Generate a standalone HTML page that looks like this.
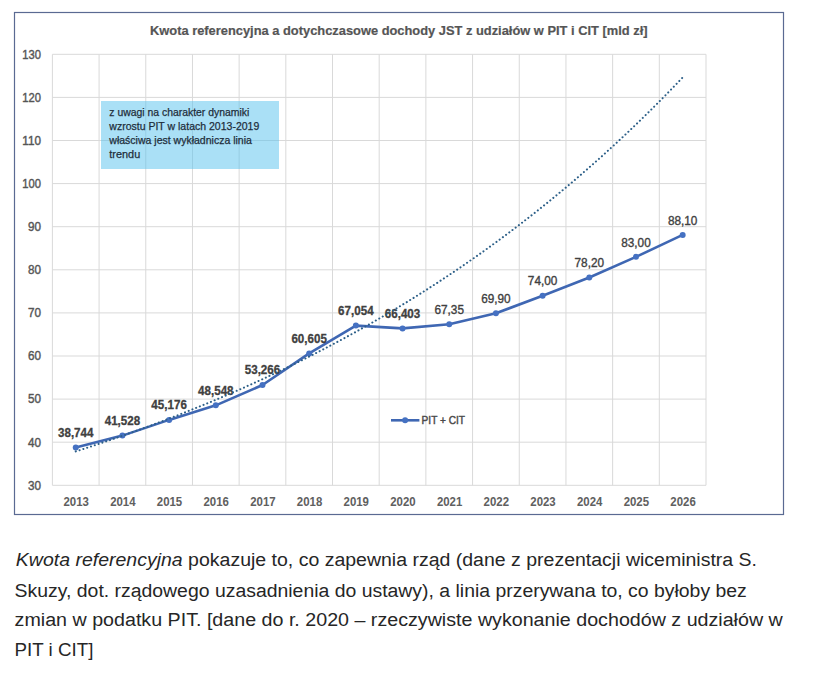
<!DOCTYPE html><html><head><meta charset="utf-8"><style>html,body{margin:0;padding:0;background:#fff;}body{width:817px;height:674px;overflow:hidden;position:relative;font-family:"Liberation Sans",sans-serif;}svg{position:absolute;left:0;top:0;}</style></head><body>
<svg width="817" height="674" viewBox="0 0 817 674" font-family="Liberation Sans, sans-serif">
<rect x="14.5" y="12.5" width="769" height="502" fill="#fff" stroke="#5a6a92" stroke-width="1.2"/>
<path d="M52.4 54.30H706.0 M52.4 97.40H706.0 M52.4 140.50H706.0 M52.4 183.60H706.0 M52.4 226.70H706.0 M52.4 269.80H706.0 M52.4 312.90H706.0 M52.4 356.00H706.0 M52.4 399.10H706.0 M52.4 442.20H706.0 M52.4 485.30H706.0 M52.40 54.3V485.3 M99.09 54.3V485.3 M145.77 54.3V485.3 M192.46 54.3V485.3 M239.14 54.3V485.3 M285.83 54.3V485.3 M332.51 54.3V485.3 M379.20 54.3V485.3 M425.89 54.3V485.3 M472.57 54.3V485.3 M519.26 54.3V485.3 M565.94 54.3V485.3 M612.63 54.3V485.3 M659.31 54.3V485.3 M706.00 54.3V485.3" stroke="#d9d9d9" stroke-width="1" fill="none"/>
<rect x="101" y="101" width="178" height="68" fill="#55c2ee" fill-opacity="0.5"/>
<text x="109.3" y="115.8" font-size="11.5" fill="#1e2d3a" stroke="#1e2d3a" stroke-width="0.25" textLength="140" lengthAdjust="spacingAndGlyphs">z uwagi na charakter dynamiki</text>
<text x="109.3" y="129.7" font-size="11.5" fill="#1e2d3a" stroke="#1e2d3a" stroke-width="0.25" textLength="150" lengthAdjust="spacingAndGlyphs">wzrostu PIT w latach 2013-2019</text>
<text x="109.3" y="143.7" font-size="11.5" fill="#1e2d3a" stroke="#1e2d3a" stroke-width="0.25" textLength="142.6" lengthAdjust="spacingAndGlyphs">właściwa jest wykładnicza linia</text>
<text x="109.3" y="157.5" font-size="11.5" fill="#1e2d3a" stroke="#1e2d3a" stroke-width="0.25" textLength="30.9" lengthAdjust="spacingAndGlyphs">trendu</text>
<text x="40.9" y="489.60" font-size="11.9" fill="#555555" stroke="#555555" stroke-width="0.4" text-anchor="end" textLength="13.0" lengthAdjust="spacingAndGlyphs">30</text>
<text x="40.9" y="446.50" font-size="11.9" fill="#555555" stroke="#555555" stroke-width="0.4" text-anchor="end" textLength="13.0" lengthAdjust="spacingAndGlyphs">40</text>
<text x="40.9" y="403.40" font-size="11.9" fill="#555555" stroke="#555555" stroke-width="0.4" text-anchor="end" textLength="13.0" lengthAdjust="spacingAndGlyphs">50</text>
<text x="40.9" y="360.30" font-size="11.9" fill="#555555" stroke="#555555" stroke-width="0.4" text-anchor="end" textLength="13.0" lengthAdjust="spacingAndGlyphs">60</text>
<text x="40.9" y="317.20" font-size="11.9" fill="#555555" stroke="#555555" stroke-width="0.4" text-anchor="end" textLength="13.0" lengthAdjust="spacingAndGlyphs">70</text>
<text x="40.9" y="274.10" font-size="11.9" fill="#555555" stroke="#555555" stroke-width="0.4" text-anchor="end" textLength="13.0" lengthAdjust="spacingAndGlyphs">80</text>
<text x="40.9" y="231.00" font-size="11.9" fill="#555555" stroke="#555555" stroke-width="0.4" text-anchor="end" textLength="13.0" lengthAdjust="spacingAndGlyphs">90</text>
<text x="40.9" y="187.90" font-size="11.9" fill="#555555" stroke="#555555" stroke-width="0.4" text-anchor="end" textLength="18.6" lengthAdjust="spacingAndGlyphs">100</text>
<text x="40.9" y="144.80" font-size="11.9" fill="#555555" stroke="#555555" stroke-width="0.4" text-anchor="end" textLength="18.6" lengthAdjust="spacingAndGlyphs">110</text>
<text x="40.9" y="101.70" font-size="11.9" fill="#555555" stroke="#555555" stroke-width="0.4" text-anchor="end" textLength="18.6" lengthAdjust="spacingAndGlyphs">120</text>
<text x="40.9" y="58.60" font-size="11.9" fill="#555555" stroke="#555555" stroke-width="0.4" text-anchor="end" textLength="18.6" lengthAdjust="spacingAndGlyphs">130</text>
<text x="76.14" y="505.6" font-size="12" font-weight="bold" fill="#606060" text-anchor="middle" textLength="25.4" lengthAdjust="spacingAndGlyphs">2013</text>
<text x="122.83" y="505.6" font-size="12" font-weight="bold" fill="#606060" text-anchor="middle" textLength="25.4" lengthAdjust="spacingAndGlyphs">2014</text>
<text x="169.51" y="505.6" font-size="12" font-weight="bold" fill="#606060" text-anchor="middle" textLength="25.4" lengthAdjust="spacingAndGlyphs">2015</text>
<text x="216.20" y="505.6" font-size="12" font-weight="bold" fill="#606060" text-anchor="middle" textLength="25.4" lengthAdjust="spacingAndGlyphs">2016</text>
<text x="262.89" y="505.6" font-size="12" font-weight="bold" fill="#606060" text-anchor="middle" textLength="25.4" lengthAdjust="spacingAndGlyphs">2017</text>
<text x="309.57" y="505.6" font-size="12" font-weight="bold" fill="#606060" text-anchor="middle" textLength="25.4" lengthAdjust="spacingAndGlyphs">2018</text>
<text x="356.26" y="505.6" font-size="12" font-weight="bold" fill="#606060" text-anchor="middle" textLength="25.4" lengthAdjust="spacingAndGlyphs">2019</text>
<text x="402.94" y="505.6" font-size="12" font-weight="bold" fill="#606060" text-anchor="middle" textLength="25.4" lengthAdjust="spacingAndGlyphs">2020</text>
<text x="449.63" y="505.6" font-size="12" font-weight="bold" fill="#606060" text-anchor="middle" textLength="25.4" lengthAdjust="spacingAndGlyphs">2021</text>
<text x="496.31" y="505.6" font-size="12" font-weight="bold" fill="#606060" text-anchor="middle" textLength="25.4" lengthAdjust="spacingAndGlyphs">2022</text>
<text x="543.00" y="505.6" font-size="12" font-weight="bold" fill="#606060" text-anchor="middle" textLength="25.4" lengthAdjust="spacingAndGlyphs">2023</text>
<text x="589.69" y="505.6" font-size="12" font-weight="bold" fill="#606060" text-anchor="middle" textLength="25.4" lengthAdjust="spacingAndGlyphs">2024</text>
<text x="636.37" y="505.6" font-size="12" font-weight="bold" fill="#606060" text-anchor="middle" textLength="25.4" lengthAdjust="spacingAndGlyphs">2025</text>
<text x="683.06" y="505.6" font-size="12" font-weight="bold" fill="#606060" text-anchor="middle" textLength="25.4" lengthAdjust="spacingAndGlyphs">2026</text>
<text x="150" y="34.7" font-size="13.2" font-weight="bold" fill="#555555" stroke="#555555" stroke-width="0.2" textLength="497.5" lengthAdjust="spacingAndGlyphs">Kwota referencyjna a dotychczasowe dochody JST z udziałów w PIT i CIT [mld zł]</text>
<polyline points="75.74,447.61 122.43,435.61 169.11,419.89 215.80,405.36 262.49,385.02 309.17,353.39 355.86,325.60 402.54,328.40 449.23,324.32 495.91,313.33 542.60,295.66 589.29,277.56 635.97,256.87 682.66,234.89" fill="none" stroke="#3f67b3" stroke-width="2.6" stroke-linejoin="round" stroke-linecap="round"/>
<circle cx="75.74" cy="447.61" r="3" fill="#4571c2"/>
<circle cx="122.43" cy="435.61" r="3" fill="#4571c2"/>
<circle cx="169.11" cy="419.89" r="3" fill="#4571c2"/>
<circle cx="215.80" cy="405.36" r="3" fill="#4571c2"/>
<circle cx="262.49" cy="385.02" r="3" fill="#4571c2"/>
<circle cx="309.17" cy="353.39" r="3" fill="#4571c2"/>
<circle cx="355.86" cy="325.60" r="3" fill="#4571c2"/>
<circle cx="402.54" cy="328.40" r="3" fill="#4571c2"/>
<circle cx="449.23" cy="324.32" r="3" fill="#4571c2"/>
<circle cx="495.91" cy="313.33" r="3" fill="#4571c2"/>
<circle cx="542.60" cy="295.66" r="3" fill="#4571c2"/>
<circle cx="589.29" cy="277.56" r="3" fill="#4571c2"/>
<circle cx="635.97" cy="256.87" r="3" fill="#4571c2"/>
<circle cx="682.66" cy="234.89" r="3" fill="#4571c2"/>
<text x="75.74" y="437.01" font-size="12.3" font-weight="bold" fill="#404040" stroke="#404040" stroke-width="0.3" text-anchor="middle" textLength="35.5" lengthAdjust="spacingAndGlyphs">38,744</text>
<text x="122.43" y="425.01" font-size="12.3" font-weight="bold" fill="#404040" stroke="#404040" stroke-width="0.3" text-anchor="middle" textLength="35.5" lengthAdjust="spacingAndGlyphs">41,528</text>
<text x="169.11" y="409.29" font-size="12.3" font-weight="bold" fill="#404040" stroke="#404040" stroke-width="0.3" text-anchor="middle" textLength="35.5" lengthAdjust="spacingAndGlyphs">45,176</text>
<text x="215.80" y="394.76" font-size="12.3" font-weight="bold" fill="#404040" stroke="#404040" stroke-width="0.3" text-anchor="middle" textLength="35.5" lengthAdjust="spacingAndGlyphs">48,548</text>
<text x="262.49" y="374.42" font-size="12.3" font-weight="bold" fill="#404040" stroke="#404040" stroke-width="0.3" text-anchor="middle" textLength="35.5" lengthAdjust="spacingAndGlyphs">53,266</text>
<text x="309.17" y="342.79" font-size="12.3" font-weight="bold" fill="#404040" stroke="#404040" stroke-width="0.3" text-anchor="middle" textLength="35.5" lengthAdjust="spacingAndGlyphs">60,605</text>
<text x="355.86" y="315.00" font-size="12.3" font-weight="bold" fill="#404040" stroke="#404040" stroke-width="0.3" text-anchor="middle" textLength="35.5" lengthAdjust="spacingAndGlyphs">67,054</text>
<text x="402.54" y="317.80" font-size="12.3" font-weight="bold" fill="#404040" stroke="#404040" stroke-width="0.3" text-anchor="middle" textLength="35.5" lengthAdjust="spacingAndGlyphs">66,403</text>
<text x="449.23" y="314.12" font-size="12" fill="#404040" stroke="#404040" stroke-width="0.35" text-anchor="middle" textLength="29.5" lengthAdjust="spacingAndGlyphs">67,35</text>
<text x="495.91" y="303.13" font-size="12" fill="#404040" stroke="#404040" stroke-width="0.35" text-anchor="middle" textLength="29.5" lengthAdjust="spacingAndGlyphs">69,90</text>
<text x="542.60" y="285.46" font-size="12" fill="#404040" stroke="#404040" stroke-width="0.35" text-anchor="middle" textLength="29.5" lengthAdjust="spacingAndGlyphs">74,00</text>
<text x="589.29" y="267.36" font-size="12" fill="#404040" stroke="#404040" stroke-width="0.35" text-anchor="middle" textLength="29.5" lengthAdjust="spacingAndGlyphs">78,20</text>
<text x="635.97" y="246.67" font-size="12" fill="#404040" stroke="#404040" stroke-width="0.35" text-anchor="middle" textLength="29.5" lengthAdjust="spacingAndGlyphs">83,00</text>
<text x="682.66" y="224.69" font-size="12" fill="#404040" stroke="#404040" stroke-width="0.35" text-anchor="middle" textLength="29.5" lengthAdjust="spacingAndGlyphs">88,10</text>
<polyline points="75.74,451.43 78.78,450.46 81.81,449.48 84.85,448.49 87.88,447.50 90.92,446.50 93.95,445.49 96.98,444.48 100.02,443.47 103.05,442.44 106.09,441.42 109.12,440.38 112.16,439.34 115.19,438.29 118.23,437.24 121.26,436.18 124.30,435.11 127.33,434.04 130.37,432.96 133.40,431.88 136.43,430.78 139.47,429.69 142.50,428.58 145.54,427.47 148.57,426.35 151.61,425.23 154.64,424.10 157.68,422.96 160.71,421.81 163.75,420.66 166.78,419.50 169.81,418.34 172.85,417.16 175.88,415.98 178.92,414.80 181.95,413.60 184.99,412.40 188.02,411.19 191.06,409.98 194.09,408.75 197.13,407.52 200.16,406.29 203.19,405.04 206.23,403.79 209.26,402.53 212.30,401.26 215.33,399.99 218.37,398.71 221.40,397.42 224.44,396.12 227.47,394.81 230.51,393.50 233.54,392.18 236.58,390.85 239.61,389.51 242.64,388.17 245.68,386.82 248.71,385.45 251.75,384.08 254.78,382.71 257.82,381.32 260.85,379.93 263.89,378.53 266.92,377.11 269.96,375.70 272.99,374.27 276.02,372.83 279.06,371.39 282.09,369.93 285.13,368.47 288.16,367.00 291.20,365.52 294.23,364.03 297.27,362.54 300.30,361.03 303.34,359.52 306.37,357.99 309.40,356.46 312.44,354.92 315.47,353.36 318.51,351.80 321.54,350.23 324.58,348.65 327.61,347.06 330.65,345.47 333.68,343.86 336.72,342.24 339.75,340.61 342.79,338.97 345.82,337.33 348.85,335.67 351.89,334.00 354.92,332.33 357.96,330.64 360.99,328.94 364.03,327.24 367.06,325.52 370.10,323.79 373.13,322.06 376.17,320.31 379.20,318.55 382.23,316.78 385.27,315.00 388.30,313.21 391.34,311.41 394.37,309.60 397.41,307.77 400.44,305.94 403.48,304.10 406.51,302.24 409.55,300.38 412.58,298.50 415.61,296.61 418.65,294.71 421.68,292.80 424.72,290.87 427.75,288.94 430.79,286.99 433.82,285.04 436.86,283.07 439.89,281.09 442.93,279.09 445.96,277.09 449.00,275.07 452.03,273.04 455.06,271.00 458.10,268.95 461.13,266.88 464.17,264.81 467.20,262.72 470.24,260.61 473.27,258.50 476.31,256.37 479.34,254.23 482.38,252.08 485.41,249.91 488.44,247.73 491.48,245.54 494.51,243.33 497.55,241.12 500.58,238.88 503.62,236.64 506.65,234.38 509.69,232.11 512.72,229.82 515.76,227.52 518.79,225.21 521.82,222.88 524.86,220.54 527.89,218.19 530.93,215.82 533.96,213.44 537.00,211.04 540.03,208.63 543.07,206.20 546.10,203.76 549.14,201.31 552.17,198.84 555.21,196.35 558.24,193.86 561.27,191.34 564.31,188.81 567.34,186.27 570.38,183.71 573.41,181.13 576.45,178.54 579.48,175.94 582.52,173.32 585.55,170.68 588.59,168.03 591.62,165.36 594.65,162.67 597.69,159.97 600.72,157.26 603.76,154.52 606.79,151.78 609.83,149.01 612.86,146.23 615.90,143.43 618.93,140.61 621.97,137.78 625.00,134.93 628.03,132.07 631.07,129.18 634.10,126.28 637.14,123.37 640.17,120.43 643.21,117.48 646.24,114.51 649.28,111.52 652.31,108.51 655.35,105.49 658.38,102.45 661.42,99.39 664.45,96.31 667.48,93.21 670.52,90.09 673.55,86.96 676.59,83.81 679.62,80.64 682.66,77.45" fill="none" stroke="#2c5f88" stroke-width="2" stroke-dasharray="0.1 3.9" stroke-linecap="round"/>
<path d="M391 420.3H419.4" stroke="#3f67b3" stroke-width="2.6"/><circle cx="405.1" cy="420.3" r="3" fill="#4571c2"/>
<text x="421.6" y="423.6" font-size="11" fill="#4a4a4a" stroke="#4a4a4a" stroke-width="0.45" textLength="43.4" lengthAdjust="spacingAndGlyphs">PIT + CIT</text>
<text x="15.8" y="566.4" font-size="18.8" fill="#262626" textLength="741.2" lengthAdjust="spacingAndGlyphs"><tspan font-style="italic">Kwota referencyjna</tspan> pokazuje to, co zapewnia rząd (dane z prezentacji wiceministra S.</text>
<text x="14.6" y="596.6" font-size="18.8" fill="#262626" textLength="732.2" lengthAdjust="spacingAndGlyphs">Skuzy, dot. rządowego uzasadnienia do ustawy), a linia przerywana to, co byłoby bez</text>
<text x="14.6" y="626.4" font-size="18.8" fill="#262626" textLength="768.2" lengthAdjust="spacingAndGlyphs">zmian w podatku PIT. [dane do r. 2020 – rzeczywiste wykonanie dochodów z udziałów w</text>
<text x="14.6" y="656.3" font-size="18.8" fill="#262626" textLength="78.8" lengthAdjust="spacingAndGlyphs">PIT i CIT]</text>
</svg></body></html>
